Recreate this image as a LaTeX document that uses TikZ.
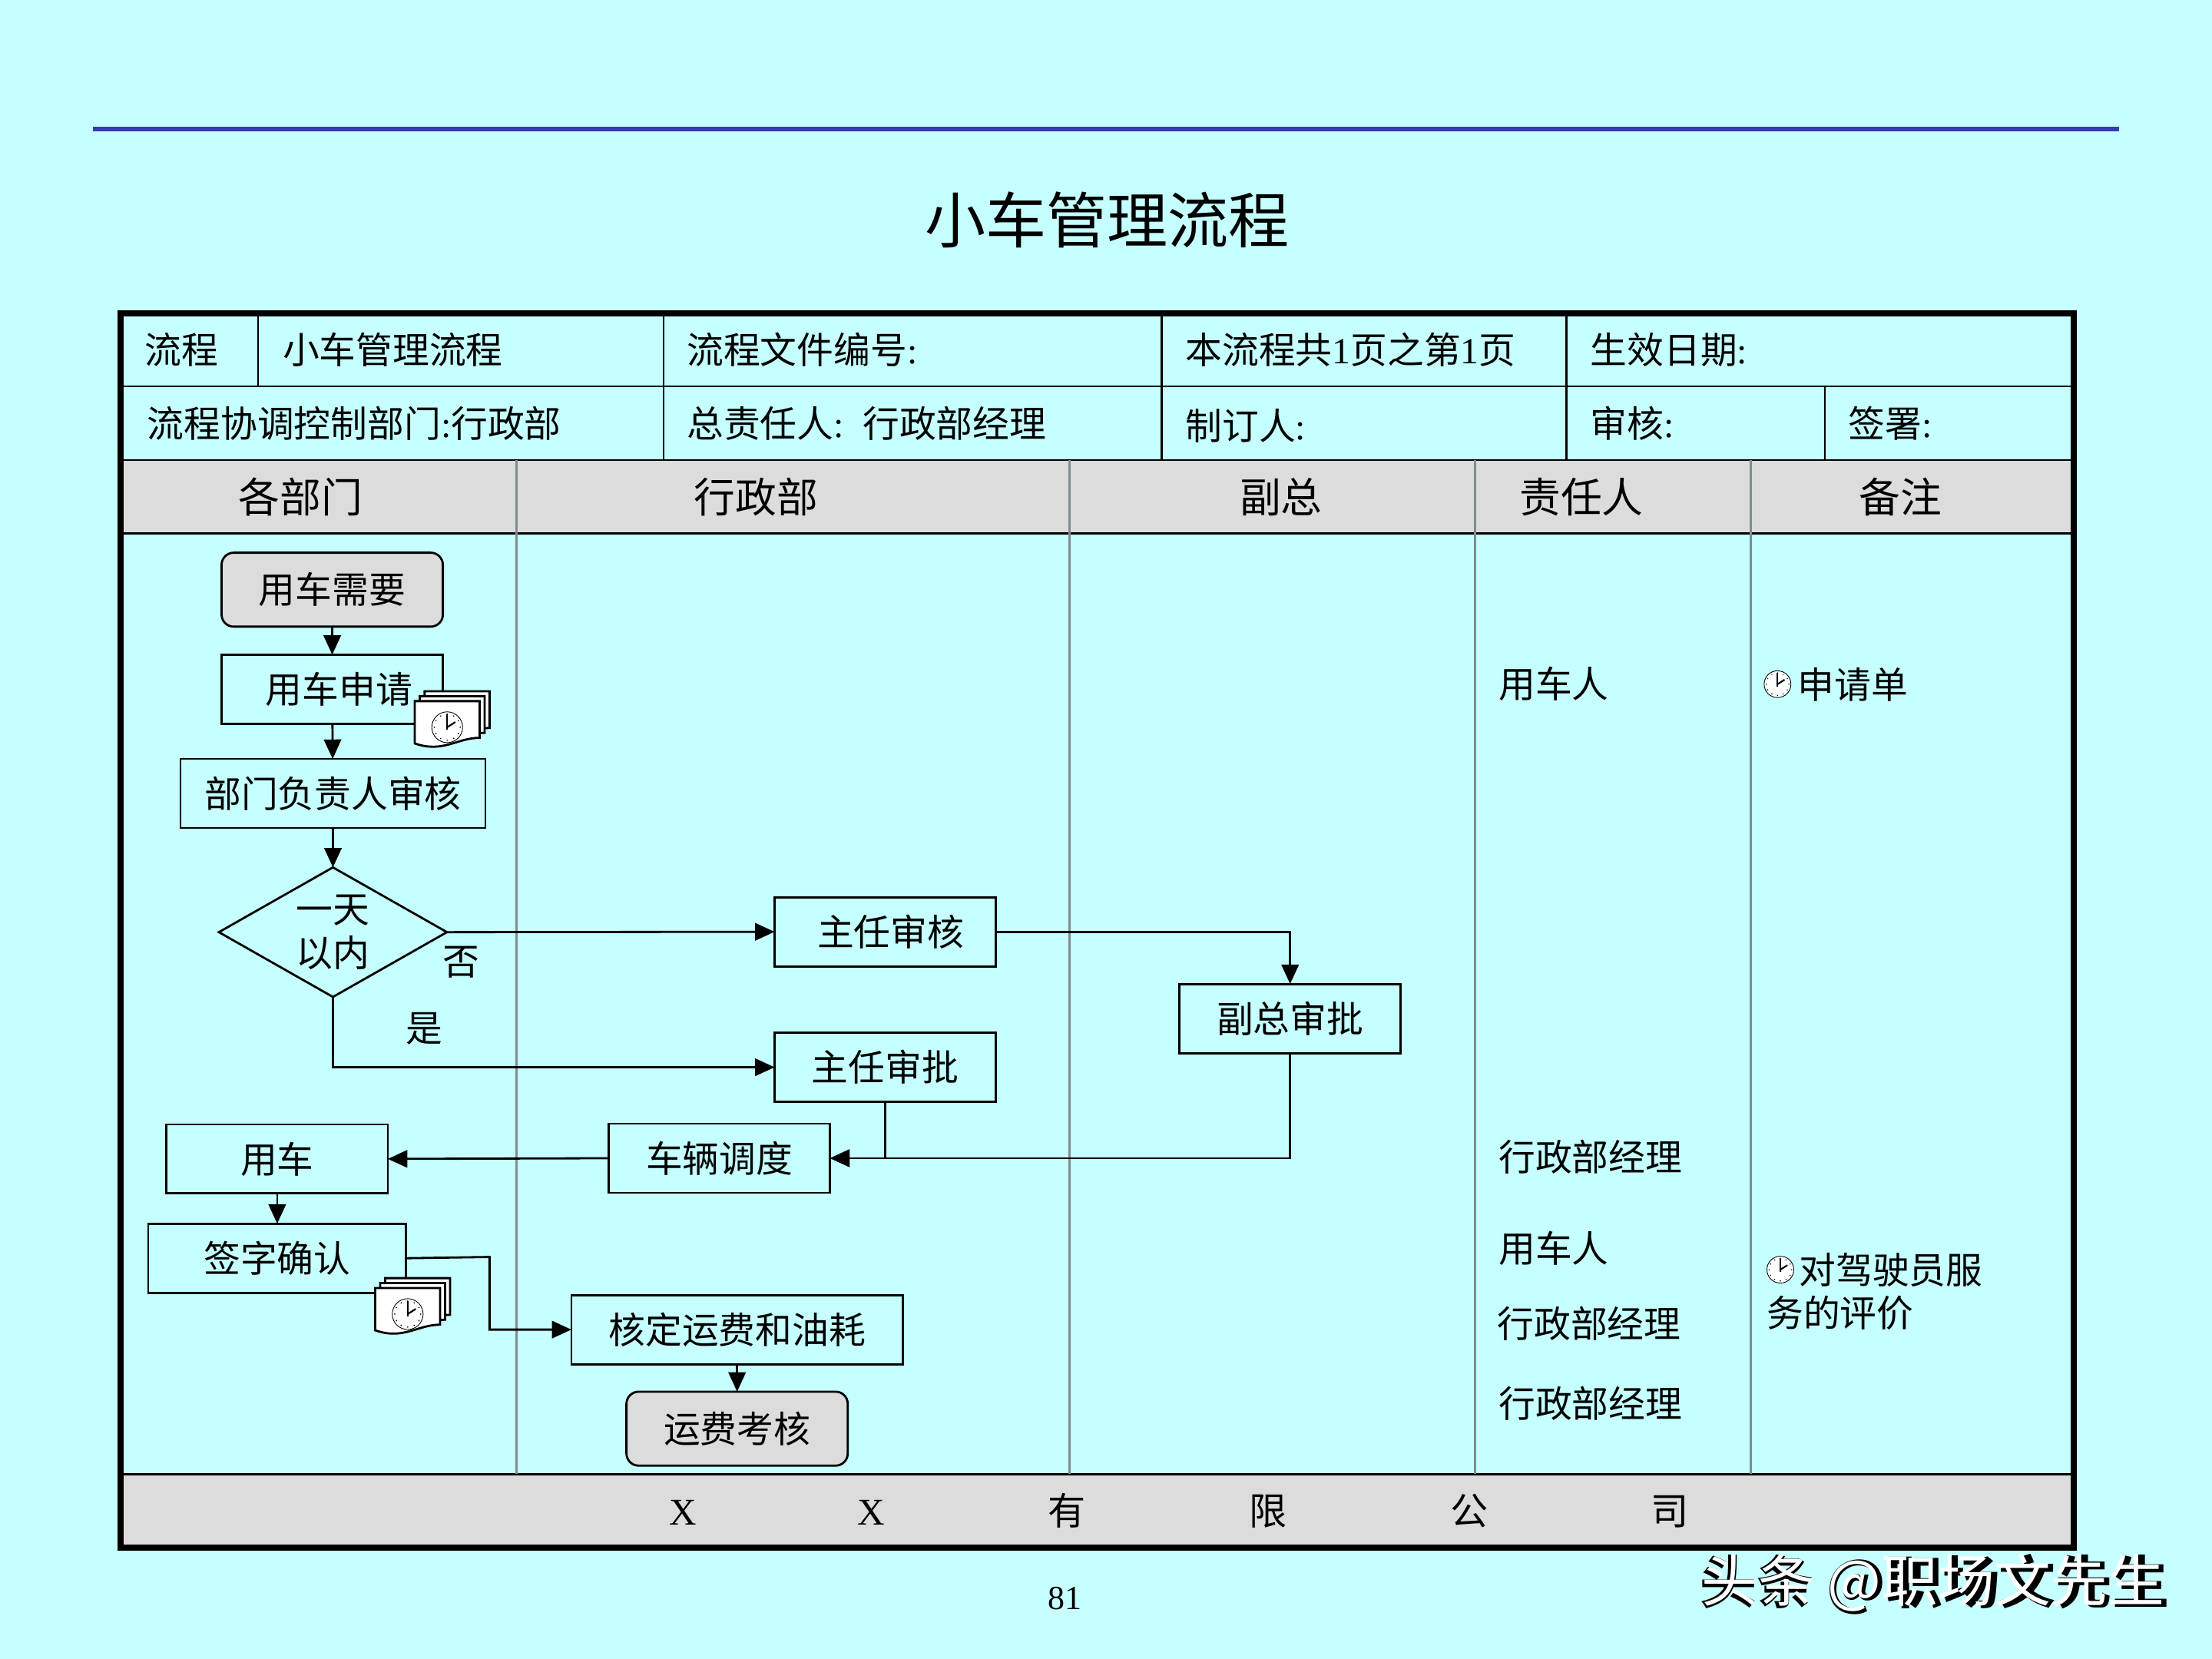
\documentclass[tikz,border=0pt]{standalone}
\usepackage{fontspec}
\setmainfont{Noto Sans CJK SC}
\newfontfamily\latfont{Liberation Serif}
\usetikzlibrary{shapes.geometric,positioning,arrows.meta}
\definecolor{pagebg}{HTML}{C6FFFF}
\definecolor{cellgray}{HTML}{DCDCDC}
\definecolor{colline}{HTML}{808C90}
\definecolor{topline}{HTML}{3838B8}
\newcommand{\lat}[1]{{\latfont #1}}
\newcommand{\fgap}{\hspace{60.5pt}}
\tikzset{
  stepbox/.style={draw,outer sep=0pt,inner sep=0pt,line width=0.8pt,
    minimum width=82pt,minimum height=25.6pt,align=center},
  endbox/.style={stepbox,rounded corners=4.5pt,fill=cellgray,minimum height=27.4pt},
  celltext/.style={anchor=west,inner sep=0pt},
  headtext/.style={inner sep=0pt,font=\fontsize{15.3}{18}\selectfont},
  flowline/.style={line width=0.8pt,-{Triangle[length=7.2pt,width=6.4pt]}},
  tableline/.style={line width=0.7pt},
  columnline/.style={line width=0.75pt,draw=colline},
  docsheet/.style={draw=black,fill=white,line width=0.8pt},
  pics/clockface/.style={code={
    \draw[line width=0.25pt,fill=white] (0,0) circle (9.5);
    \foreach \a in {0,30,...,330} {\fill (\a:8) circle (0.45);}
    \draw[line width=0.6pt] (0,1.5) -- (0,-8);
    \draw[line width=0.6pt] (0,0) -- (5,-3.2);
  }},
  pics/clockdoc/.style={code={
    \foreach \s in {7,3.5,0} {
      \draw[docsheet,shift={(\s,-\s)}] (0,0) -- (46,0) -- (46,26)
        .. controls (30,26) and (20,37) .. (0,30) -- cycle;
    }
    \pic at (23,18.5) [scale=1.15] {clockface};
  }}
}
\begin{document}
\begin{tikzpicture}[x=0.018367cm,y=-0.018367cm,font=\fontsize{13.6}{16.2}\selectfont]

\fill[pagebg] (0,0) rectangle (1568,1176);
\useasboundingbox (0,0) rectangle (1568,1176);

% rule and title
\draw[line width=1.8pt,topline] (66,91.3) -- (1502,91.3);
\node[inner sep=0pt,font=\fontsize{22.5}{26}\selectfont] (title) at (785,156) {小车管理流程};

% table
\fill[cellgray] (85,326) rectangle (1470,378);
\fill[cellgray] (85,1045) rectangle (1470,1097);
\draw[tableline] (85,274) -- (1470,274);
\draw[tableline] (85,326) -- (1470,326);
\draw[tableline] (85,378) -- (1470,378);
\draw[tableline] (85,1045) -- (1470,1045);
\draw[tableline] (183,222) -- (183,274);
\foreach \x in {470.5,823.5,1110.5} {
  \draw[tableline] (\x,222) -- (\x,326);
}
\draw[tableline] (1293.5,274) -- (1293.5,326);
\foreach \x in {366,758,1045.5,1241} {
  \draw[columnline] (\x,326) -- (\x,1045);
}

\node[celltext] (cellA) at (102.5,248) {流程};
\node[celltext] (cellB) at (200,248) {小车管理流程};
\node[celltext] (cellC) at (486.5,248) {流程文件编号\lat{:}};
\node[celltext] (cellD) at (840,248) {本流程共\lat{1}页之第\lat{1}页};
\node[celltext] (cellE) at (1127,248) {生效日期\lat{:}};
\node[celltext] (cellF) at (104,300) {流程协调控制部门\lat{:}行政部};
\node[celltext] (cellG) at (486.5,300) {总责任人\lat{:}\hspace{7pt}行政部经理};
\node[celltext] (cellH) at (840,302) {制订人\lat{:}};
\node[celltext] (cellI) at (1127,300) {审核\lat{:}};
\node[celltext] (cellJ) at (1310,300) {签署\lat{:}};

\node[headtext] (headA) at (213,352.5) {各部门};
\node[headtext] (headB) at (536,352.5) {行政部};
\node[headtext] (headC) at (908,352.5) {副总};
\node[headtext] (headD) at (1121,352.5) {责任人};
\node[headtext] (headE) at (1347,352.5) {备注};

% flow nodes
\node[endbox] (need) at (235.5,418) {用车需要};

\node[stepbox,
    below=10.4pt of need
] (apply) {\hspace{5pt}用车申请};

\node[stepbox,
    below=13pt of apply,
    xshift=0.26pt,
    minimum width=113pt
] (review) {部门负责人审核};

\node[draw,
    diamond,
    below=14.6pt of review,
    outer sep=0pt,
    inner sep=-2pt,
    aspect=1.76,
    line width=0.8pt,
    minimum width=84.5pt,
    minimum height=48pt,
    align=center
] (oneday) {一天\\以内};

\node[stepbox] (headcheck) at (627.5,660.5) {\hspace{4pt}主任审核};
\node[stepbox,
    below=24.6pt of headcheck
] (headok) {主任审批};

\node[stepbox] (vpok) at (914.5,722) {副总审批};
\node[stepbox] (dispatch) at (510,821) {车辆调度};

\node[stepbox] (usecar) at (196.5,821.5) {用车};
\node[stepbox,
    below=11.2pt of usecar,
    minimum width=95.6pt
] (sign) {签字确认};

\node[stepbox,
    minimum width=122.8pt
] (costcheck) at (522.5,942.5) {核定运费和油耗};
\node[endbox,
    below=10.2pt of costcheck
] (costaudit) {运费考核};

\node (noA) at (327,682) {否};
\node (yesA) at (301,729) {是};

% connectors
\coordinate (signbend) at (347,891);

\draw[flowline] (need) -- (apply);
\draw[flowline] (apply) -- (review);
\draw[flowline] (review) -- (oneday);
\draw[flowline] (oneday.east) -- (headcheck.west);
\draw[flowline] (oneday.south) |- (headok.west);
\draw[flowline] (headcheck.east) -| (vpok.north);
\draw[flowline] (vpok.south) |- (dispatch.east);
\draw[flowline] (headok.south) |- (dispatch.east);
\draw[flowline] (dispatch.west) -- (usecar.east);
\draw[flowline] (usecar) -- (sign);
\draw[flowline] (sign.east) -- (signbend) |- (costcheck.west);
\draw[flowline] (costcheck) -- (costaudit);

% document icons
\pic (docA) at (294,497) {clockdoc};
\pic (docB) at (266,913) {clockdoc};

% right columns
\node[celltext] (ownerA) at (1062,485) {用车人};
\node[celltext] (ownerB) at (1062,820) {行政部经理};
\node[celltext] (ownerC) at (1062,885) {用车人};
\node[celltext] (ownerD) at (1061,938) {行政部经理};
\node[celltext] (ownerE) at (1062,995) {行政部经理};

\pic (clockA) at (1260,485) {clockface};
\node[celltext] (noteA) at (1274,485) {申请单};
\pic (clockB) at (1262,900) {clockface};
\node[celltext,align=left] (noteB) at (1252,915.5) {\hspace{12pt}对驾驶员服\\务的评价};

% footer
\node[inner sep=0pt,font=\fontsize{14}{17}\selectfont] (company) at (836,1071)
  {\lat{X}\hspace{59.5pt}\lat{X}\fgap 有\fgap 限\fgap 公\fgap 司};
\node[inner sep=0pt,font=\fontsize{12.5}{15}\selectfont\latfont] (pagenum) at (755,1133) {81};

% frame on top
\draw[line width=2.2pt] (85.5,222) rectangle (1470,1097);

% watermark
\node[inner sep=0pt,text=black,font=\fontsize{21}{25}\selectfont\bfseries] (markB) at (1371.5,1123.2) {头条 @职场文先生};
\node[inner sep=0pt,text=white,font=\fontsize{21}{25}\selectfont] (markA) at (1370.3,1121.8) {头条 @职场文先生};

\end{tikzpicture}
\end{document}
